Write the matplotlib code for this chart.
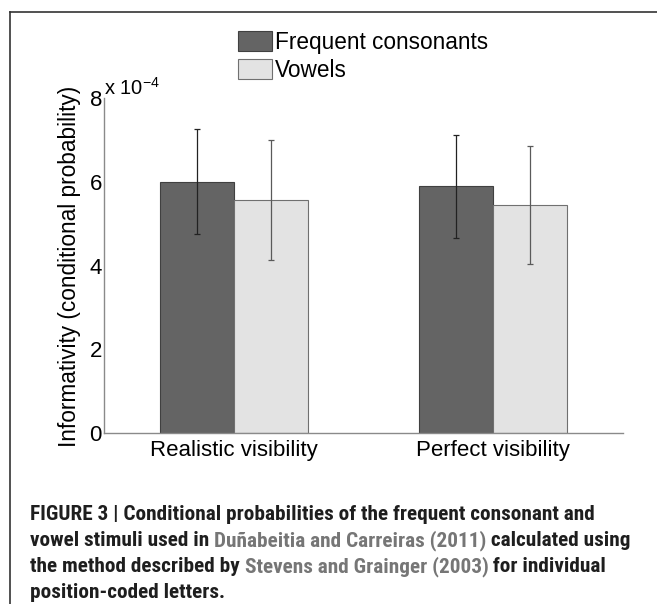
import matplotlib
matplotlib.use("Agg")
import matplotlib.pyplot as plt
import numpy as np
from matplotlib.lines import Line2D
from matplotlib.patches import Patch

plt.rcParams["font.family"] = ["Liberation Sans", "DejaVu Sans"]
plt.rcParams["mathtext.fontset"] = "custom"
plt.rcParams["mathtext.rm"] = "Liberation Sans"

# data (units of 1e-4)
conditions = ["Realistic visibility", "Perfect visibility"]
series_names = ["Frequent consonants", "Vowels"]
consonants = [6.00, 5.89]
consonants_err = [1.25, 1.23]
vowels = [5.56, 5.44]
vowels_err = [1.43, 1.41]
yticks = [0, 2, 4, 6, 8]

W, H = 657, 604
fig = plt.figure(figsize=(W / 100, H / 100), dpi=100)
ax = fig.add_axes([104 / W, 1 - 433 / H, (623 - 104) / W, (433 - 98) / H])

x = np.arange(1, len(conditions) + 1)
bw = 0.285
dark, light = "#646464", "#e3e3e3"
ax.bar(x - bw / 2, consonants, bw, color=dark, edgecolor="#404040", linewidth=0.8)
ax.bar(x + bw / 2, vowels, bw, color=light, edgecolor="#707070", linewidth=0.8)
ax.errorbar(x - bw / 2, consonants, yerr=consonants_err, fmt="none",
            ecolor="#222222", elinewidth=0.9, capsize=2.2, capthick=0.9)
ax.errorbar(x + bw / 2, vowels, yerr=vowels_err, fmt="none",
            ecolor="#5a5a5a", elinewidth=0.9, capsize=2.2, capthick=0.9)

ax.set_xlim(0.5, 2.5)
ax.set_ylim(0, 8)
ax.set_xticks(x)
ax.set_xticklabels(conditions, fontsize=16)
ax.set_yticks(yticks)
ax.set_yticklabels([str(t) for t in yticks], fontsize=16)
ax.tick_params(length=0)
ax.tick_params(axis="y", pad=1.5)
ax.tick_params(axis="x", pad=5)
for s in ["top", "right"]:
    ax.spines[s].set_visible(False)
for s in ["left", "bottom"]:
    ax.spines[s].set_color("#8a8a8a")
    ax.spines[s].set_linewidth(1.0)

fig.text(70 / W, 1 - 266 / H, "Informativity (conditional probability)",
         rotation=90, ha="center", va="center", fontsize=16.3)
fig.text(104 / W, 1 - 95 / H, r"x 10$^{-4}$", fontsize=14.5, ha="left", va="baseline")

handles = [Patch(facecolor=dark, edgecolor="#404040", linewidth=0.8),
           Patch(facecolor=light, edgecolor="#707070", linewidth=0.8)]
fig.legend(handles, series_names, loc="upper left",
           bbox_to_anchor=(238 / W, 1 - 31 / H), bbox_transform=fig.transFigure,
           frameon=False, fontsize=16.3, handlelength=1.5, handleheight=1.0,
           handletextpad=0.15, labelspacing=0.22, borderpad=0, borderaxespad=0)

# frame around the figure panel
fig.add_artist(Line2D([10 / W, 10 / W], [0, 1 - 12 / H], color="#333333", lw=1.2,
                      transform=fig.transFigure))
fig.add_artist(Line2D([10 / W, 1], [1 - 12 / H, 1 - 12 / H], color="#333333", lw=1.2,
                      transform=fig.transFigure))

# caption with grey references
caption = [
    [("FIGURE 3 | Conditional probabilities of the frequent consonant and", "#1e1e1e")],
    [("vowel stimuli used in ", "#1e1e1e"), ("Duñabeitia and Carreiras (2011)", "#767676"),
     (" calculated using", "#1e1e1e")],
    [("the method described by ", "#1e1e1e"), ("Stevens and Grainger (2003)", "#767676"),
     (" for individual", "#1e1e1e")],
    [("position-coded letters.", "#1e1e1e")],
]
cap_font = ["Roboto Condensed", "DejaVu Sans"]
renderer = fig.canvas.get_renderer()

# fit the first caption line to its width in the reference
probe = fig.text(0, 0, caption[0][0][0], fontsize=14, fontweight="bold", family=cap_font)
cap_size = 14 * 568 / probe.get_window_extent(renderer).width
probe.remove()

baselines = [519.5, 546, 572.5, 598]
for line, yb in zip(caption, baselines):
    xpos = 30
    for txt, col in line:
        t = fig.text(xpos / W, 1 - yb / H, txt, color=col,
                     fontsize=cap_size, fontweight="bold", family=cap_font,
                     ha="left", va="baseline")
        xpos += t.get_window_extent(renderer).width

fig.savefig("out.png", dpi=100)
